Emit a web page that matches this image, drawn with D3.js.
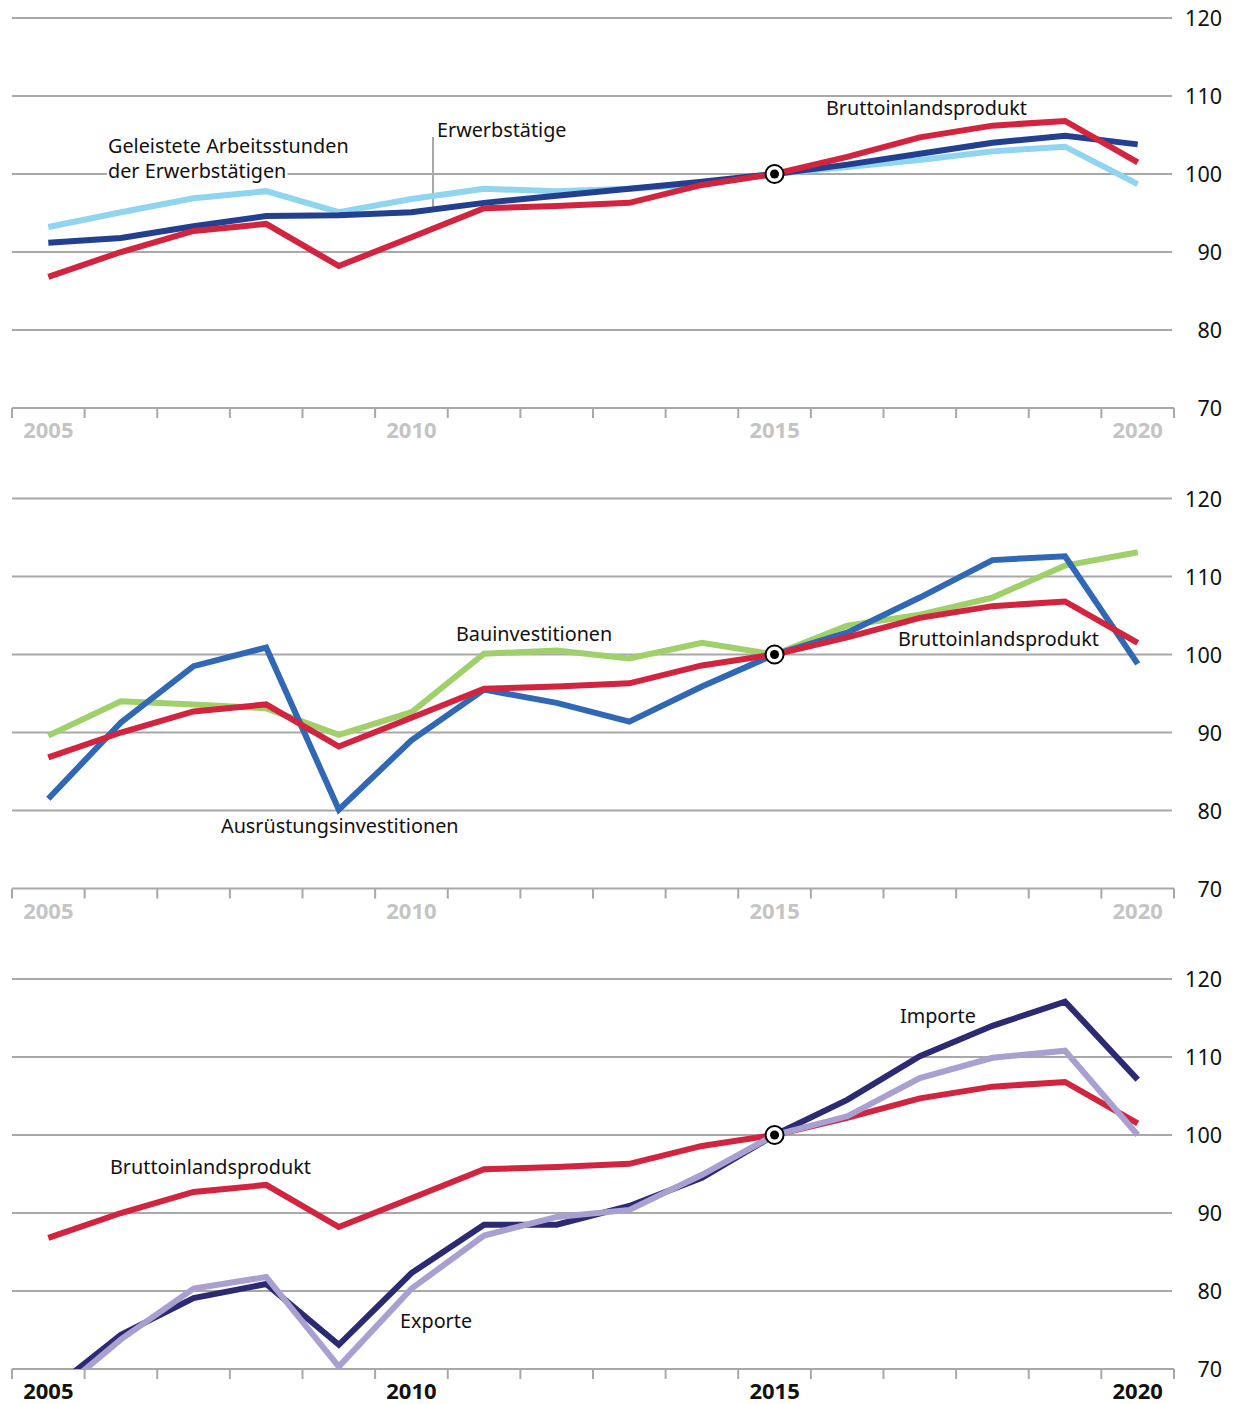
<!DOCTYPE html>
<html>
<head>
<meta charset="utf-8">
<script src="https://cdn.jsdelivr.net/npm/d3@7"></script>
<style>
  body { margin: 0; background: #fff; }
  text { font-family: "Noto Sans", sans-serif; }
</style>
</head>
<body>
<div id="chart"></div>
<script>
var years = d3.range(2005, 2021);
var yTicks = [70, 80, 90, 100, 110, 120];
var xLabels = [2005, 2010, 2015, 2020];

// Panel 1
var bip = [86.8, 90.0, 92.7, 93.6, 88.2, 91.9, 95.6, 95.9, 96.3, 98.6, 100, 102.2, 104.7, 106.2, 106.8, 101.5];
var erwerbstaetige = [91.2, 91.8, 93.3, 94.6, 94.7, 95.1, 96.3, 97.2, 98.1, 99.0, 100, 101.2, 102.6, 104.0, 104.9, 103.8];
var arbeitsstunden = [93.2, 95.1, 96.9, 97.8, 95.1, 96.8, 98.1, 97.8, 98.1, 98.7, 100, 100.9, 101.8, 102.9, 103.5, 98.7];
// Panel 2
var bau = [89.6, 94.0, 93.6, 93.1, 89.7, 92.6, 100.1, 100.5, 99.5, 101.5, 100, 103.7, 105.1, 107.3, 111.4, 113.1];
var ausruestung = [81.5, 91.3, 98.5, 100.9, 80.1, 89.0, 95.5, 93.8, 91.4, 95.9, 100, 102.8, 107.3, 112.1, 112.6, 98.8];
// Panel 3
var importe = [67.0, 74.4, 79.1, 80.9, 73.1, 82.3, 88.5, 88.5, 90.9, 94.5, 100, 104.5, 110.1, 114.0, 117.1, 107.1];
var exporte = [66.0, 73.8, 80.3, 81.8, 70.3, 80.3, 87.1, 89.5, 90.4, 94.9, 100, 102.4, 107.3, 109.9, 110.8, 100.0];

var colors = {
  bip: "#d2233f", erw: "#233f8f", std: "#8fd5f0",
  bau: "#9fd06a", aus: "#3068b6", imp: "#2b2a73", exp: "#a99fd0"
};

var panels = [
  { series: [[arbeitsstunden, colors.std], [erwerbstaetige, colors.erw], [bip, colors.bip]],
    labelColor: "#c4c4c4",
    notes: [
      { t: "Geleistete Arbeitsstunden", x: 108, y: 153, bg: true },
      { t: "der Erwerbstätigen", x: 108, y: 178, bg: true },
      { t: "Erwerbstätige", x: 437, y: 137 },
      { t: "Bruttoinlandsprodukt", x: 826, y: 115 }
    ],
    leader: [433, 137, 207] },
  { series: [[bau, colors.bau], [ausruestung, colors.aus], [bip, colors.bip]],
    labelColor: "#c4c4c4",
    notes: [
      { t: "Bauinvestitionen", x: 456, y: 641 },
      { t: "Bruttoinlandsprodukt", x: 898, y: 646 },
      { t: "Ausrüstungsinvestitionen", x: 221, y: 833 }
    ] },
  { series: [[bip, colors.bip], [importe, colors.imp], [exporte, colors.exp]],
    labelColor: "#111",
    notes: [
      { t: "Importe", x: 900, y: 1023 },
      { t: "Bruttoinlandsprodukt", x: 110, y: 1174 },
      { t: "Exporte", x: 400, y: 1328 }
    ] }
];

var W = 1234, H = 1404;
var left = 12, right = 1174;

var svg = d3.select("#chart").append("svg")
  .attr("width", W).attr("height", H);

var xBand = d3.scaleBand().domain(years).range([left, right]);
var xPos = function(yr) { return xBand(yr) + xBand.bandwidth() / 2; };

panels.forEach(function(p, i) {
  var off = i * 480.5;
  var y = d3.scaleLinear().domain([70, 120]).range([408 + off, 18 + off]);
  var g = svg.append("g");

  // gridlines
  g.selectAll(".grid").data(yTicks.slice(1)).enter().append("line")
    .attr("x1", left).attr("x2", right - 2)
    .attr("y1", function(d) { return y(d); }).attr("y2", function(d) { return y(d); })
    .attr("stroke", "#a8a8a8").attr("stroke-width", 2);

  // y labels on right
  g.selectAll(".ylab").data(yTicks).enter().append("text")
    .attr("x", 1222).attr("y", function(d) { return y(d) + 8; })
    .attr("text-anchor", "end")
    .attr("font-size", 21.5).attr("fill", "#111")
    .text(function(d) { return d; });

  // bottom axis with ticks at band boundaries
  g.append("line")
    .attr("x1", left).attr("x2", right)
    .attr("y1", y(70)).attr("y2", y(70))
    .attr("stroke", "#a8a8a8").attr("stroke-width", 2);
  var bounds = years.map(function(d) { return xBand(d); }).concat([right]);
  g.selectAll(".tick").data(bounds).enter().append("line")
    .attr("x1", function(d) { return d; }).attr("x2", function(d) { return d; })
    .attr("y1", y(70)).attr("y2", y(70) + 10)
    .attr("stroke", "#a8a8a8").attr("stroke-width", 2);
  g.selectAll(".xlab").data(xLabels).enter().append("text")
    .attr("x", function(d) { return xPos(d); }).attr("y", y(70) + 30)
    .attr("text-anchor", "middle")
    .attr("font-size", 22).attr("font-weight", "bold")
    .attr("fill", p.labelColor)
    .text(function(d) { return d; });

  // notes with white boxes where needed
  p.notes.forEach(function(n) {
    var t = g.append("text")
      .attr("x", n.x).attr("y", n.y)
      .attr("font-size", 19.8).attr("fill", "#111")
      .text(n.t);
    if (n.bg) {
      var bb = t.node().getBBox();
      g.insert("rect", "text")
        .attr("x", bb.x - 1).attr("y", bb.y)
        .attr("width", bb.width + 2).attr("height", bb.height)
        .attr("fill", "#fff");
    }
  });
  if (p.leader) {
    g.append("line")
      .attr("x1", p.leader[0]).attr("x2", p.leader[0])
      .attr("y1", p.leader[1]).attr("y2", p.leader[2])
      .attr("stroke", "#a8a8a8").attr("stroke-width", 2);
  }

  // clip lines to plotting area
  var clipId = "clip" + i;
  svg.append("clipPath").attr("id", clipId).append("rect")
    .attr("x", 0).attr("y", y(122)).attr("width", W).attr("height", y(70) - y(122));

  var line = d3.line()
    .x(function(d, j) { return xPos(years[j]); })
    .y(function(d) { return y(d); });

  var lg = g.append("g").attr("clip-path", "url(#" + clipId + ")");
  p.series.forEach(function(s) {
    lg.append("path")
      .attr("d", line(s[0]))
      .attr("fill", "none")
      .attr("stroke", s[1])
      .attr("stroke-width", 6)
      .attr("stroke-linejoin", "miter");
  });

  // reference marker at 2015 = 100
  g.append("circle")
    .attr("cx", xPos(2015)).attr("cy", y(100)).attr("r", 9)
    .attr("fill", "#fff").attr("stroke", "#000").attr("stroke-width", 2);
  g.append("circle")
    .attr("cx", xPos(2015)).attr("cy", y(100)).attr("r", 4.5)
    .attr("fill", "#000");
});
</script>
</body>
</html>
